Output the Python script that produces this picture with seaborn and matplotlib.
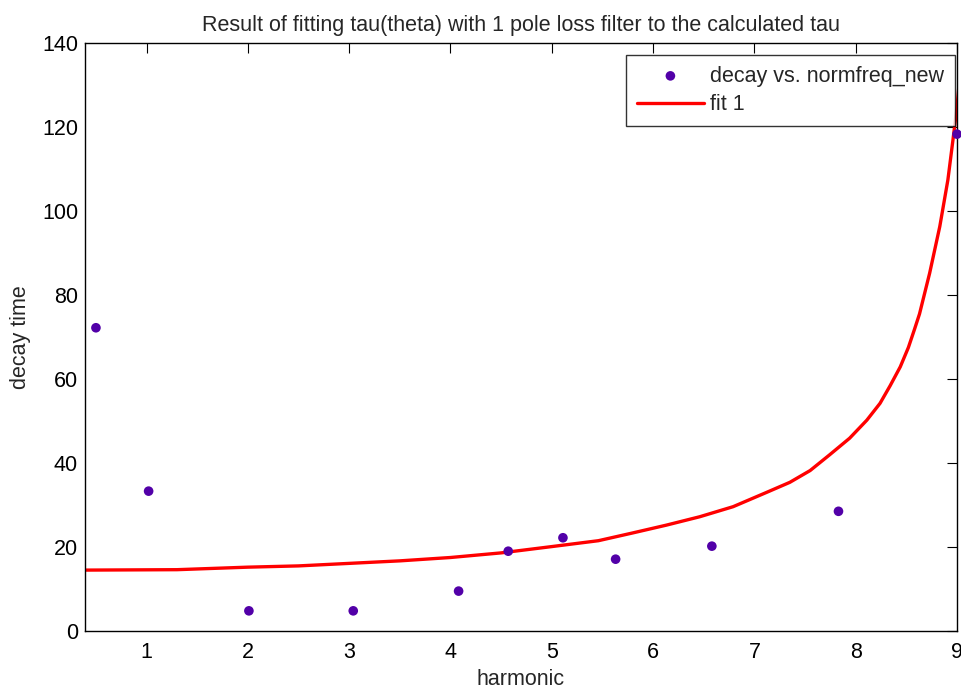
import matplotlib
matplotlib.use("Agg")
import matplotlib.pyplot as plt
import pandas as pd
import seaborn as sns

# Measured decay times per harmonic
harmonic = [0.50, 1.02, 2.01, 3.04, 4.08, 4.57, 5.11, 5.63, 6.58, 7.83, 9.00]
decay = [72.2, 33.3, 4.8, 4.8, 9.5, 19.0, 22.2, 17.1, 20.2, 28.5, 118.3]

# Fitted one-pole loss filter curve
fit_x = [0.39, 1.30, 2.00, 2.50, 3.00, 3.50, 4.00, 4.50, 5.00, 5.46, 5.79,
         6.13, 6.46, 6.79, 7.12, 7.35, 7.55, 7.74, 7.94, 8.11, 8.24, 8.34,
         8.44, 8.52, 8.58, 8.63, 8.73, 8.83, 8.91, 8.96, 9.00, 9.03]
fit_y = [14.5, 14.6, 15.2, 15.5, 16.1, 16.7, 17.5, 18.6, 20.1, 21.5, 23.3,
         25.2, 27.2, 29.6, 33.0, 35.4, 38.2, 41.9, 45.9, 50.2, 54.2, 58.4,
         62.9, 67.5, 71.8, 75.5, 85.2, 96.3, 107.4, 116.9, 124.8, 132.8]

x_ticks = [1, 2, 3, 4, 5, 6, 7, 8, 9]
y_ticks = [0, 20, 40, 60, 80, 100, 120, 140]

sns.set_style("white")
plt.rcParams["font.family"] = ["Liberation Sans", "DejaVu Sans"]

FS = 15.5

fig = plt.figure(figsize=(9.61, 6.91), dpi=100)
ax = fig.add_axes([85 / 961, 60 / 691, (957 - 85) / 961, (631 - 43) / 691])

pts = pd.DataFrame({"harmonic": harmonic, "decay": decay})
fit = pd.DataFrame({"x": fit_x, "y": fit_y})

sns.scatterplot(data=pts, x="harmonic", y="decay", ax=ax, color="#5200a8",
                s=48, edgecolor="none", label="decay vs. normfreq_new",
                clip_on=False, zorder=3)
sns.lineplot(data=fit, x="x", y="y", ax=ax, color="#ff0000", linewidth=2.4,
             label="fit 1", zorder=2, sort=False)

ax.set_xlim(0.392, 9.0)
ax.set_ylim(0, 140)
ax.set_xticks(x_ticks)
ax.set_yticks(y_ticks)
ax.tick_params(direction="in", length=7, width=0.8, top=True, right=True,
               labelsize=FS, colors="black", pad=8)
ax.tick_params(axis="y", pad=5)
for s in ax.spines.values():
    s.set_color("black")
    s.set_linewidth(1.0)

ax.set_xlabel("harmonic", fontsize=FS, labelpad=4)
ax.set_ylabel("decay time", fontsize=FS, labelpad=8)
ax.set_title("Result of fitting tau(theta) with 1 pole loss filter to the calculated tau",
             fontsize=FS, pad=9)

leg = ax.legend(loc="upper right", fontsize=FS, frameon=True, fancybox=False,
                borderaxespad=0.0, bbox_to_anchor=(0.9977, 0.98),
                handlelength=3.1, handletextpad=0.3, borderpad=0.5,
                labelspacing=0.35, markerscale=1.0)
leg.get_frame().set_edgecolor("black")
leg.get_frame().set_linewidth(1.0)

fig.savefig("out.png", dpi=100, facecolor="white")
